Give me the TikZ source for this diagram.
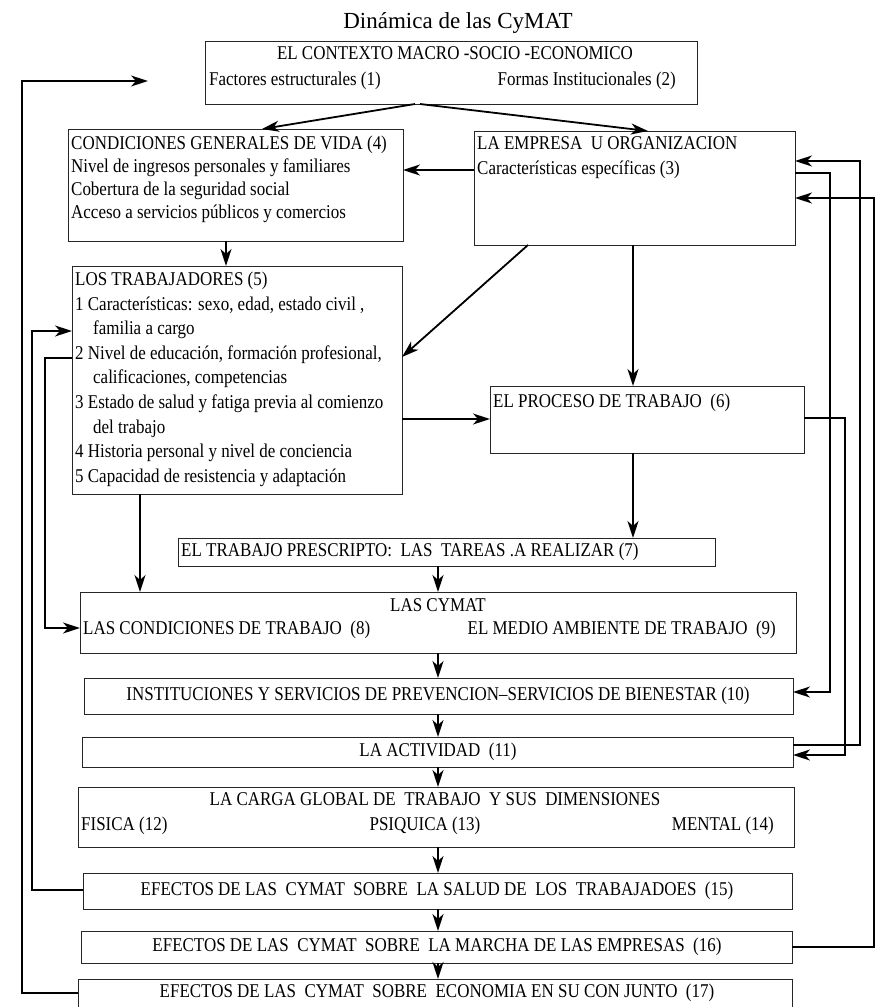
\documentclass[tikz,border=0pt]{standalone}
\usepackage{fontspec}
\setmainfont{Liberation Serif}[FakeStretch=0.87]
\newfontfamily\ttlfont{Liberation Serif}
\usetikzlibrary{arrows.meta,calc}
\begin{document}
\begin{tikzpicture}[x=1pt,y=-1pt,
  box/.style={draw=black!85, line width=0.9pt, inner sep=0pt, outer sep=0pt, anchor=north west},
  txt/.style={inner sep=0pt, font=\fontsize{19.5}{22}\selectfont, text height=13pt, text depth=4pt},
  ttl/.style={inner sep=0pt, font=\ttlfont\fontsize{23}{26}\selectfont},
  conn/.style={line width=1.8pt, -{Stealth[length=17pt,width=11pt,inset=5pt]}},
  feed/.style={line width=1.6pt, -{Stealth[length=17pt,width=11pt,inset=5pt]}},
]
\useasboundingbox (0,0) rectangle (876,1007);
\fill[white] (0,0) rectangle (876,1007);

% title
\node[ttl] (title) at (458,23) {Dinámica de las CyMAT};

% boxes
\node[box, minimum width=492pt, minimum height=63pt] (b1) at (205,41) {};
\node[box, minimum width=335pt, minimum height=112pt] (b4) at (68,129) {};
\node[box, minimum width=321pt, minimum height=114pt] (b3) at (474,131) {};
\node[box, minimum width=330pt, minimum height=228pt] (b5) at (72,266) {};
\node[box, minimum width=314pt, minimum height=67pt] (b6) at (490,386) {};
\node[box, minimum width=537pt, minimum height=28pt] (b7) at (178,538) {};
\node[box, minimum width=716pt, minimum height=61pt] (b8) at (80,592) {};
\node[box, minimum width=709pt, minimum height=36pt] (b10) at (84,678) {};
\node[box, minimum width=711pt, minimum height=30pt] (b11) at (82,737) {};
\node[box, minimum width=716pt, minimum height=60pt] (b12) at (78,787) {};
\node[box, minimum width=709pt, minimum height=36pt] (b15) at (83,873) {};
\node[box, minimum width=711pt, minimum height=32pt] (b16) at (81,931) {};
\node[box, minimum width=714pt, minimum height=42pt] (b17) at (78,979) {};

% texts box 1
\node[txt] (t1a) at (455,55) {EL CONTEXTO MACRO -SOCIO -ECONOMICO};
\node[txt, anchor=west] (t1b) at (209,81) {Factores estructurales (1)};
\node[txt, anchor=east] (t1c) at (676,81) {Formas Institucionales (2)};
% box 4
\node[txt, anchor=west] (t4a) at (71,145) {CONDICIONES GENERALES DE VIDA (4)};
\node[txt, anchor=west] (t4b) at (71,168) {Nivel de ingresos personales y familiares};
\node[txt, anchor=west] (t4c) at (71,191) {Cobertura de la seguridad social};
\node[txt, anchor=west] (t4d) at (71,214) {Acceso a servicios públicos y comercios};
% box 3
\node[txt, anchor=west] (t3a) at (477,145) {LA EMPRESA~ U ORGANIZACION};
\node[txt, anchor=west] (t3b) at (477,170) {Características específicas (3)};
% box 5
\node[txt, anchor=west] (t5a) at (75,281) {LOS TRABAJADORES (5)};
\node[txt, anchor=west] (t5b) at (75,305.6) {1 Características: sexo, edad, estado civil ,};
\node[txt, anchor=west] (t5c) at (93,330) {familia a cargo};
\node[txt, anchor=west] (t5d) at (75,354.8) {2 Nivel de educación, formación profesional,};
\node[txt, anchor=west] (t5e) at (93,379) {calificaciones, competencias};
\node[txt, anchor=west] (t5f) at (75,404) {3 Estado de salud y fatiga previa al comienzo};
\node[txt, anchor=west] (t5g) at (93,428.6) {del trabajo};
\node[txt, anchor=west] (t5h) at (75,453) {4 Historia personal y nivel de conciencia};
\node[txt, anchor=west] (t5i) at (75,478) {5 Capacidad de resistencia y adaptación};
% box 6
\node[txt, anchor=west] (t6) at (493,403) {EL PROCESO DE TRABAJO~ (6)};
% box 7
\node[txt, anchor=west] (t7) at (181,552) {EL TRABAJO PRESCRIPTO:~ LAS~ TAREAS .A REALIZAR (7)};
% box 8
\node[txt] (t8a) at (438,607) {LAS CYMAT};
\node[txt, anchor=west] (t8b) at (83,630) {LAS CONDICIONES DE TRABAJO~ (8)};
\node[txt, anchor=east] (t8c) at (776,630) {EL MEDIO AMBIENTE DE TRABAJO~ (9)};
% box 10, 11
\node[txt] (t10) at (438,696) {INSTITUCIONES Y SERVICIOS DE PREVENCION–SERVICIOS DE BIENESTAR (10)};
\node[txt] (t11) at (438,752) {LA ACTIVIDAD~ (11)};
% box 12
\node[txt] (t12a) at (435,801) {LA CARGA GLOBAL DE~ TRABAJO~ Y SUS~ DIMENSIONES};
\node[txt, anchor=west] (t12b) at (81,826) {FISICA (12)};
\node[txt] (t12c) at (425,826) {PSIQUICA (13)};
\node[txt, anchor=east] (t12d) at (774,826) {MENTAL (14)};
% boxes 15-17
\node[txt] (t15) at (437,891) {EFECTOS DE LAS~ CYMAT~ SOBRE~ LA SALUD DE~ LOS~ TRABAJADOES~ (15)};
\node[txt] (t16) at (437,947) {EFECTOS DE LAS~ CYMAT~ SOBRE~ LA MARCHA DE LAS EMPRESAS~ (16)};
\node[txt] (t17) at (437,993) {EFECTOS DE LAS~ CYMAT~ SOBRE~ ECONOMIA EN SU CON JUNTO~ (17)};

% main connectors
\draw[conn] (b1.south -| 415,0) -- (b4.north -| 262,0);
\draw[conn] (b1.south -| 420,0) -- (b3.north -| 648,0);
\draw[conn] (b3.west |- 0,170) -- (b4.east |- 0,170);
\draw[conn] (b4.south -| 226,0) -- (b5.north -| 226,0);
\draw[conn] (b3.south -| 528,0) -- (b5.east |- 0,357);
\draw[conn] (b3.south -| 633,0) -- (b6.north -| 633,0);
\draw[conn] (b5.east |- 0,419) -- (b6.west |- 0,419);
\draw[conn] (b6.south -| 633,0) -- (b7.north -| 633,0);
\draw[conn] (b5.south -| 140,0) -- (b8.north -| 140,0);
\draw[conn] (b7.south -| 438,0) -- (b8.north -| 438,0);
\draw[conn] (b8.south -| 438,0) -- (b10.north -| 438,0);
\draw[conn] (b10.south -| 438,0) -- (b11.north -| 438,0);
\draw[conn] (b11.south -| 438,0) -- (b12.north -| 438,0);
\draw[conn] (b12.south -| 438,0) -- (b15.north -| 438,0);
\draw[conn] (b15.south -| 438,0) -- (b16.north -| 438,0);
\draw[conn] (b16.south -| 438,0) -- (b17.north -| 438,0);

% right feedback lines
\draw[feed] (b3.east |- 0,173) -- (830,173) |- (b10.east |- 0,692);
\draw[feed] (b6.east |- 0,418) -- (845,418) |- (b11.east |- 0,755);
\draw[feed] (b11.east |- 0,745) -- (860,745) |- (b3.east |- 0,161);
\draw[feed] (b16.east |- 0,947) -- (874,947) |- (b3.east |- 0,198);

% left feedback lines
\coordinate (ctx) at (148,81);
\draw[feed] (b15.west |- 0,890) -- (32,890) |- (b5.west |- 0,331);
\draw[feed] (b5.west |- 0,358) -- (45,358) |- (b8.west |- 0,628);
\draw[feed] (b17.west |- 0,993) -- (22,993) |- (ctx);
\end{tikzpicture}
\end{document}
